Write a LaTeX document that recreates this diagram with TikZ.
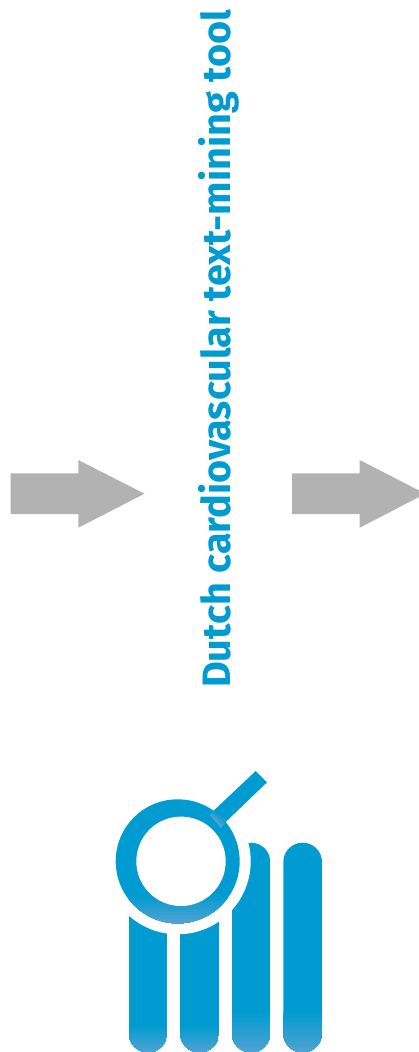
\documentclass[tikz,border=0pt]{standalone}
\usepackage{fontspec}
\usetikzlibrary{calc}
\setmainfont{Fira Sans}
\definecolor{logoblue}{HTML}{009BD0}
\definecolor{logolight}{HTML}{52A3D2}
\definecolor{arrowgrey}{HTML}{B2B2B2}
\tikzset{
  greyarrow/.style={fill=arrowgrey,draw=none},
  titletext/.style={text=logoblue,font=\bfseries\fontsize{39.6}{44}\selectfont,rotate=90,inner sep=0pt,anchor=base west},
}
\begin{document}
\begin{tikzpicture}[x=1pt,y=-1pt]
\useasboundingbox (0,0) rectangle (419,1052);
% arrows
\fill[greyarrow] (10.7,473.3) -- (78.3,473.3) -- (78.3,460) -- (144.5,493.7) -- (78.3,527.7) -- (78.3,514) -- (10.7,514) -- cycle;
\fill[greyarrow] (292,473.3) -- (359.7,473.3) -- (359.7,460) -- (419,490.5) -- (419,497) -- (359.7,527.7) -- (359.7,514) -- (292,514) -- cycle;
% title
\node[titletext] (title) at (230,688) {Dutch cardiovascular text-mining tool};
% bars, lighter towards the foot
\foreach \l/\r/\s in {128.7/167.3/1025,180/219/1025,231.7/270.3/1010,283.3/322/1010}{
  \begin{scope}
    \clip[rounded corners=19.3pt] (\l,842.7) rectangle (\r,1052.5);
    \fill[logoblue] (\l,842) rectangle (\r,1053);
    \foreach \i in {1,...,16}{
      \pgfmathsetmacro{\mix}{\i*100/16}
      \pgfmathsetmacro{\ytop}{\s+(1052-\s)*\i/16}
      \fill[logolight!\mix!logoblue] (\l,\ytop) rectangle (\r,1053);
    }
  \end{scope}
}
% clearance round the lens
\fill[white] (177.7,861.3) circle[radius=73];
% handle
\fill[logoblue] (255.7,771) -- (267,782.3) -- (226.7,821) -- (213.3,811) -- cycle;
% ring, lighter towards the bottom
\begin{scope}
  \clip (177.7,861.3) circle[radius=62];
  \fill[logoblue] (110,795) rectangle (245,930);
  \foreach \i in {1,...,16}{
    \pgfmathsetmacro{\mix}{\i*100/16}
    \pgfmathsetmacro{\ytop}{895+27*\i/16}
    \fill[logolight!\mix!logoblue] (110,\ytop) rectangle (245,930);
  }
\end{scope}
% handle root, lighter where it meets the ring
\foreach \i in {1,...,6}{
  \pgfmathsetmacro{\mix}{\i*100/6}
  \pgfmathsetmacro{\t}{(\i-1)/6}
  \fill[logolight!\mix!logoblue]
    ($(213.3,811)!\t!(210,815)$) -- ($(226.7,821)!\t!(221,827.7)$) -- (221,827.7) -- (210,815) -- cycle;
}
% lens
\fill[white] (181,861.3) circle[radius=44.7];
\end{tikzpicture}
\end{document}
